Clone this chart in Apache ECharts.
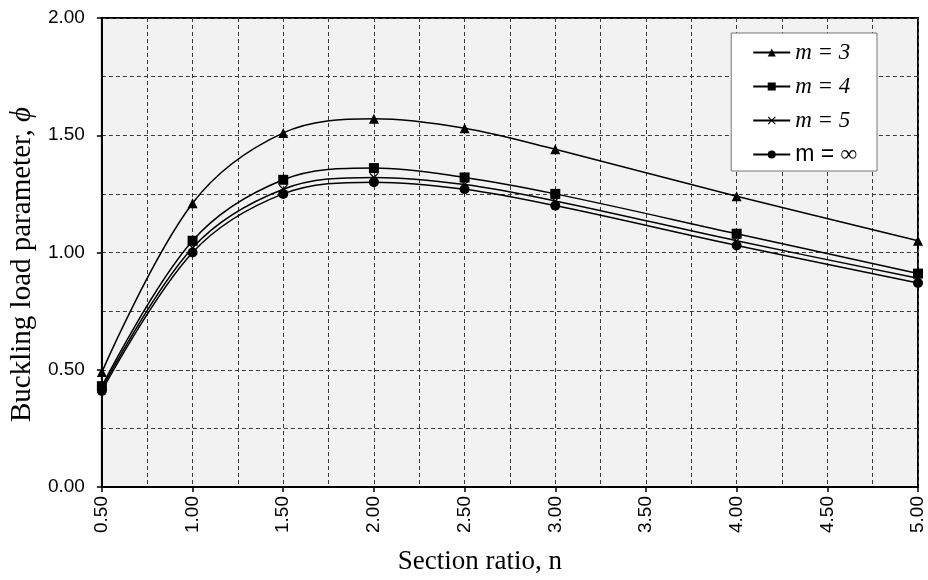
<!DOCTYPE html>
<html>
<head>
<meta charset="utf-8">
<script src="https://cdn.jsdelivr.net/npm/echarts@6/dist/echarts.min.js"></script>
<style>
  html, body { margin: 0; padding: 0; background: #fff; }
  #chart { width: 928px; height: 580px; }
</style>
</head>
<body>
<div id="chart"></div>
<script>
// section ratio n
const nValues = [0.5, 1.0, 1.5, 2.0, 2.5, 3.0, 4.0, 5.0];
// buckling load parameter for each m
const m3 = [0.49, 1.21, 1.51, 1.57, 1.53, 1.44, 1.24, 1.05];
const m4 = [0.43, 1.05, 1.31, 1.36, 1.32, 1.25, 1.08, 0.91];
const m5 = [0.42, 1.02, 1.27, 1.32, 1.29, 1.22, 1.05, 0.89];
const mInf = [0.41, 1.00, 1.25, 1.30, 1.27, 1.20, 1.03, 0.87];
const seriesNames = ['m = 3', 'm = 4', 'm = 5', 'm = ∞'];

const crossPath = 'path://M1,0 L5,4 L9,0 L10,1 L6,5 L10,9 L9,10 L5,6 L1,10 L0,9 L4,5 L0,1 Z';
const dash = { color: '#3a3a3a', type: [4, 3], width: 1 };

function pairs(ys) {
  return nValues.map((x, i) => [x, ys[i]]);
}

function makeSeries(name, ys, symbol, size) {
  return {
    name: name,
    type: 'line',
    data: pairs(ys),
    smooth: 0.35,
    symbol: symbol,
    symbolSize: size,
    showAllSymbol: true,
    color: '#000',
    lineStyle: { color: '#000', width: 1.5 },
    itemStyle: { color: '#000' }
  };
}

let myChart = echarts.init(document.getElementById('chart'));
let option = {
  animation: false,
  grid: {
    left: 100,
    right: 10,
    top: 18,
    bottom: 92,
    show: true,
    backgroundColor: '#f2f2f2',
    borderColor: '#000',
    borderWidth: 2
  },
  legend: {
    data: seriesNames,
    orient: 'vertical',
    right: 51,
    top: 33,
    backgroundColor: '#fff',
    borderColor: '#777',
    borderWidth: 1,
    borderRadius: 0,
    padding: [8, 20, 5, 21],
    itemGap: 11,
    itemWidth: 37,
    itemHeight: 10,
    formatter: function (name) {
      if (name === 'm = ∞') return '{s|m = }{i|∞}';
      return '{i|' + name + '}';
    },
    textStyle: {
      fontSize: 23,
      color: '#000',
      rich: {
        i: { fontFamily: 'Liberation Serif', fontStyle: 'italic', fontSize: 23, color: '#000' },
        s: { fontFamily: 'Liberation Sans', fontSize: 23, color: '#000' }
      }
    }
  },
  xAxis: {
    type: 'value',
    min: 0.5,
    max: 5,
    interval: 0.5,
    name: 'Section ratio, n',
    nameLocation: 'middle',
    nameGap: 61,
    nameTextStyle: {
      fontFamily: 'Liberation Serif',
      fontSize: 27,
      color: '#000',
      padding: [0, 60, 0, 0]
    },
    axisLine: { show: true, lineStyle: { color: '#000', width: 2 } },
    axisTick: { show: true, inside: false, length: 5, lineStyle: { color: '#000', width: 1.5 } },
    axisLabel: {
      rotate: 90,
      margin: 9,
      fontFamily: 'Liberation Sans',
      fontSize: 19,
      color: '#000',
      formatter: v => v.toFixed(2)
    },
    splitLine: { show: true, lineStyle: dash },
    minorTick: { show: false, splitNumber: 2 },
    minorSplitLine: { show: true, lineStyle: dash }
  },
  yAxis: {
    type: 'value',
    min: 0,
    max: 2,
    interval: 0.5,
    name: '{t|Buckling load parameter, }{p|ϕ}',
    nameLocation: 'middle',
    nameGap: 61,
    nameTextStyle: {
      padding: [0, 24, 0, 0],
      rich: {
        t: { fontFamily: 'Liberation Serif', fontSize: 29, color: '#000' },
        p: { fontFamily: 'Liberation Serif', fontStyle: 'italic', fontSize: 29, color: '#000' }
      }
    },
    axisLine: { show: true, lineStyle: { color: '#000', width: 2 } },
    axisTick: { show: true, inside: false, length: 5, lineStyle: { color: '#000', width: 1.5 } },
    axisLabel: {
      margin: 17,
      fontFamily: 'Liberation Sans',
      fontSize: 19,
      color: '#000',
      formatter: v => v.toFixed(2)
    },
    splitLine: { show: true, lineStyle: dash },
    minorTick: { show: false, splitNumber: 2 },
    minorSplitLine: { show: true, lineStyle: dash }
  },
  series: [
    makeSeries(seriesNames[0], m3, 'triangle', 10),
    makeSeries(seriesNames[1], m4, 'rect', 10),
    makeSeries(seriesNames[2], m5, crossPath, 9),
    makeSeries(seriesNames[3], mInf, 'circle', 10)
  ]
};
myChart.setOption(option);
</script>
</body>
</html>
